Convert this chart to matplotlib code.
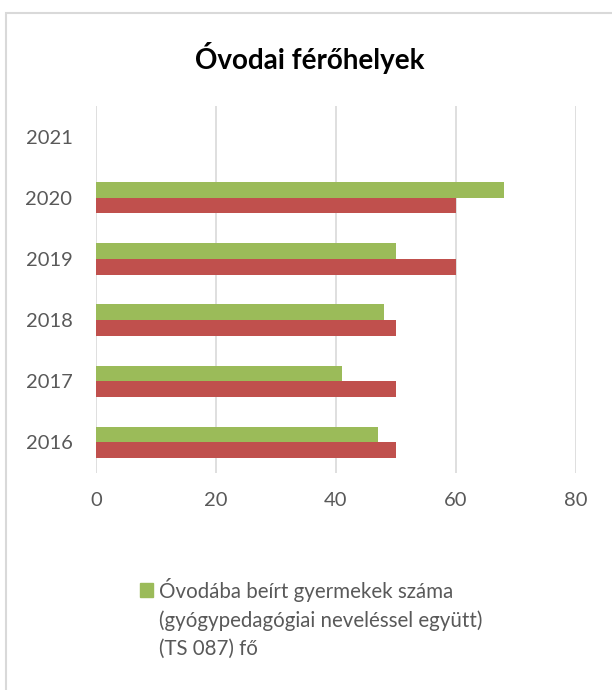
import matplotlib.pyplot as plt
from matplotlib.patches import Rectangle
import numpy as np

years = ['2016', '2017', '2018', '2019', '2020', '2021']
ferohely = [50, 50, 50, 60, 60, np.nan]
beirt = [47, 41, 48, 50, 68, np.nan]
legend_label = 'Óvodába beírt gyermekek száma\n(gyógypedagógiai neveléssel együtt)\n(TS 087) fő'
x_ticks = [0, 20, 40, 60, 80]

plt.rcParams['font.family'] = ['Lato', 'DejaVu Sans']

fig = plt.figure(figsize=(6.12, 6.9), dpi=100)
W, H = 612, 690

# outer chart frame
fig.patches.append(Rectangle((6 / W, -0.1), 1.2, (H - 13) / H + 0.1, transform=fig.transFigure,
                             fill=False, edgecolor='#d9d9d9', linewidth=1.5))

ax = fig.add_axes([96 / W, 1 - 473 / H, 480 / W, (473 - 106) / H])

y = np.arange(len(years))
h = 0.255
ax.barh(y - h / 2, ferohely, height=h, color='#c0504d')
ax.barh(y + h / 2, beirt, height=h, color='#9bbb59')

ax.set_xlim(0, 80)
ax.set_ylim(-0.5, len(years) - 0.5)
ax.set_xticks(x_ticks)
ax.set_yticks(y)
ax.set_yticklabels(years)
ax.tick_params(length=0, labelsize=14.5, labelcolor='#595959')
ax.tick_params(axis='y', pad=17)
ax.tick_params(axis='x', pad=14)
ax.grid(axis='x', color='#d9d9d9', linewidth=1.2)
ax.set_axisbelow(True)
for s in ax.spines.values():
    s.set_visible(False)

fig.text(310 / W, 1 - 58 / H, 'Óvodai férőhelyek', ha='center', va='center',
         fontsize=20, fontweight='bold', color='black')

# legend (only the first entry is visible in the frame)
fig.patches.append(Rectangle((140 / W, 1 - 597 / H), 13 / W, 14 / H, transform=fig.transFigure,
                             color='#9bbb59'))
fig.text(159 / W, 1 - 578 / H, legend_label, ha='left', va='top', fontsize=14.8,
         color='#595959', linespacing=1.5)

fig.savefig('out.png', dpi=100)
